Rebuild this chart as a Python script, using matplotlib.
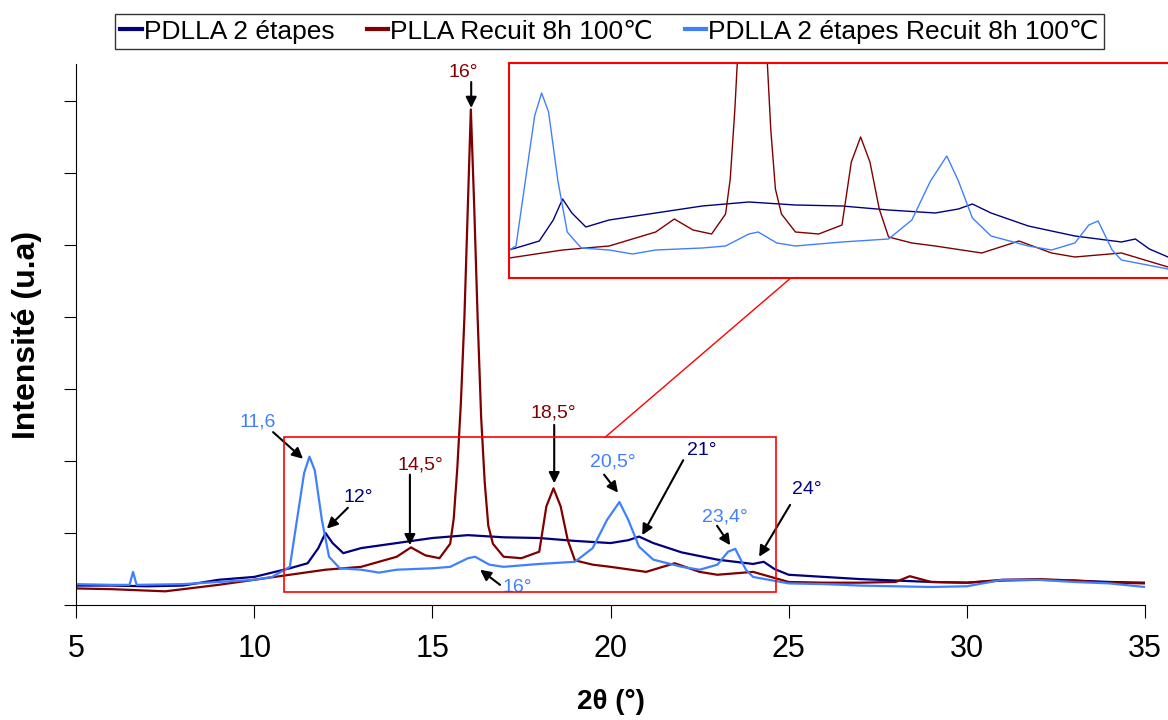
import matplotlib
matplotlib.use("Agg")
import matplotlib.pyplot as plt
from matplotlib.patches import Rectangle, ConnectionPatch

plt.rcParams['font.family'] = ['Liberation Sans', 'DejaVu Sans']

# PDLLA 2 etapes (navy)
navy_x = [5, 6, 7, 8, 9, 10, 10.5, 11, 11.5, 11.8, 12.0, 12.2, 12.5, 13, 14, 15, 16, 17, 18, 19,
          20, 20.5, 20.8, 21.2, 22, 23, 24, 24.3, 24.6, 25, 26, 27, 28, 29, 30, 31, 32, 33, 34, 35]
navy_y = [0.27, 0.27, 0.26, 0.27, 0.35, 0.39, 0.45, 0.51, 0.58, 0.79, 1.00, 0.86, 0.72, 0.79, 0.86, 0.93, 0.97, 0.94, 0.93, 0.89,
          0.86, 0.90, 0.95, 0.86, 0.73, 0.63, 0.57, 0.60, 0.50, 0.42, 0.39, 0.36, 0.34, 0.32, 0.31, 0.34, 0.35, 0.34, 0.32, 0.31]

# PLLA Recuit 8h 100C (dark red)
red_x = [5, 6, 7, 7.5, 8, 9, 10, 11, 12, 13, 14, 14.4, 14.8, 15.2, 15.5, 15.6, 15.7, 15.8, 15.9, 16.0,
         16.08, 16.17, 16.27, 16.37, 16.47, 16.57, 16.7, 17, 17.5, 18, 18.2, 18.4, 18.6, 18.8, 19, 19.5,
         20, 21, 21.8, 22.5, 23, 24, 25, 26, 27, 28, 28.4, 29, 30, 31, 32, 33, 34, 35]
red_y = [0.23, 0.22, 0.20, 0.19, 0.22, 0.28, 0.35, 0.42, 0.49, 0.53, 0.67, 0.80, 0.69, 0.65, 0.85, 1.2, 1.9, 2.8, 4.0, 5.6,
         6.88, 5.6, 4.0, 2.6, 1.7, 1.1, 0.85, 0.67, 0.65, 0.74, 1.37, 1.62, 1.37, 0.90, 0.62, 0.56,
         0.53, 0.46, 0.58, 0.46, 0.42, 0.46, 0.32, 0.31, 0.31, 0.32, 0.40, 0.32, 0.31, 0.35, 0.36, 0.34, 0.31, 0.30]

# PDLLA 2 etapes Recuit 8h 100C (light blue)
blue_x = [5, 6, 6.5, 6.6, 6.7, 8, 9, 10, 10.5, 11, 11.2, 11.4, 11.55, 11.7, 11.9, 12.1, 12.4, 13, 13.5, 14,
          15, 15.5, 16, 16.2, 16.6, 17, 18, 19, 19.5, 19.9, 20.25, 20.5, 20.8, 21.2, 22, 22.5, 23, 23.3,
          23.5, 23.8, 24, 25, 26, 27, 28, 29, 30, 31, 32, 33, 34, 35]
blue_y = [0.29, 0.28, 0.28, 0.46, 0.28, 0.29, 0.32, 0.35, 0.39, 0.53, 1.18, 1.83, 2.06, 1.87, 1.18, 0.67, 0.51, 0.49, 0.45, 0.49,
          0.51, 0.53, 0.65, 0.67, 0.56, 0.53, 0.57, 0.60, 0.79, 1.18, 1.43, 1.18, 0.81, 0.63, 0.53, 0.49, 0.56, 0.74,
          0.78, 0.49, 0.39, 0.30, 0.29, 0.27, 0.26, 0.25, 0.26, 0.35, 0.35, 0.32, 0.30, 0.25]

labels = ['PDLLA 2 étapes', 'PLLA Recuit 8h 100\u2103', 'PDLLA 2 étapes Recuit 8h 100\u2103']
colors = ['#000080', '#800000', '#4080FF']

# peak labels: text, colour, text position, arrow tail, arrow head
peaks = [
    ('16°', '#800000', (15.86, 7.39), (16.09, 7.26), (16.09, 6.90)),
    ('11,6', '#4080FF', (10.11, 2.54), (10.53, 2.40), (11.37, 2.03)),
    ('12°', '#000080', (12.91, 1.49), (12.63, 1.35), (12.04, 1.06)),
    ('14,5°', '#800000', (14.65, 1.94), (14.37, 1.81), (14.37, 0.83)),
    ('18,5°', '#800000', (18.39, 2.67), (18.42, 2.50), (18.42, 1.69)),
    ('20,5°', '#4080FF', (20.07, 1.99), (19.82, 1.81), (20.21, 1.56)),
    ('21°', '#000080', (22.57, 2.14), (22.04, 2.01), (20.89, 0.97)),
    ('23,4°', '#4080FF', (23.21, 1.22), (22.99, 1.10), (23.36, 0.83)),
    ('24°', '#000080', (25.52, 1.61), (25.04, 1.39), (24.17, 0.67)),
    ('16°', '#4080FF', (17.38, 0.25), (16.90, 0.28), (16.34, 0.49)),
]

fig = plt.figure(figsize=(11.68, 7.2), dpi=100)
ax = fig.add_axes([0.0651, 0.1597, 0.9152, 0.7514])

series = [(navy_x, navy_y), (red_x, red_y), (blue_x, blue_y)]
lines = []
for (xs, ys), lab, c in zip(series, labels, colors):
    l, = ax.plot(xs, ys, color=c, lw=1.6, label=lab)
    lines.append(l)

ax.set_xlim(5, 35)
ax.set_ylim(0, 7.51)
ax.set_xticks([5, 10, 15, 20, 25, 30, 35])
ax.set_yticks(range(8))
ax.set_yticklabels([])
ax.tick_params(axis='x', direction='out', length=9, labelsize=22, pad=12)
ax.tick_params(axis='y', direction='out', length=9)
for s in ['top', 'right']:
    ax.spines[s].set_visible(False)
ax.set_xlabel('2θ (°)', fontsize=20, fontweight='bold', labelpad=18)
ax.set_ylabel('Intensité (u.a)', fontsize=23, fontweight='bold', labelpad=12)

# zoom box
ax.add_patch(Rectangle((10.84, 0.18), 13.81, 2.15, fill=False, edgecolor='#FF0000', lw=1.2, zorder=5))

for txt, c, tpos, tail, head in peaks:
    ax.text(tpos[0], tpos[1], txt, color=c, fontsize=14, ha='center', va='center')
    ax.annotate('', xy=head, xytext=tail,
                arrowprops=dict(arrowstyle='-|>', color='black', lw=1.5, mutation_scale=16,
                                shrinkA=0, shrinkB=0))

# inset
axin = fig.add_axes([0.4358, 0.6139, 0.5642, 0.2986])
for (xs, ys), c in zip(series, colors):
    axin.plot(xs, ys, color=c, lw=1.0)
axin.set_xlim(10.85, 25.0)
axin.set_ylim(0.21, 2.36)
axin.set_xticks([])
axin.set_yticks([])
for s in ['top', 'bottom', 'left']:
    axin.spines[s].set_color('#FF0000')
    axin.spines[s].set_linewidth(1.5)
axin.spines['right'].set_visible(False)

con = ConnectionPatch(xyA=(19.85, 2.33), coordsA=ax.transData,
                      xyB=(16.9, 0.21), coordsB=axin.transData,
                      color='#FF0000', lw=1.0)
fig.add_artist(con)

leg = fig.legend(handles=lines, labels=labels, loc='center', bbox_to_anchor=(0.522, 0.956),
                 ncol=3, fontsize=19, frameon=True, fancybox=False, edgecolor='black',
                 handlelength=0.8, handletextpad=0.1, columnspacing=1.2, borderpad=0.2)
leg.get_frame().set_linewidth(1.0)
for h in leg.legend_handles:
    h.set_linewidth(3)

fig.savefig('out.png', dpi=100)
